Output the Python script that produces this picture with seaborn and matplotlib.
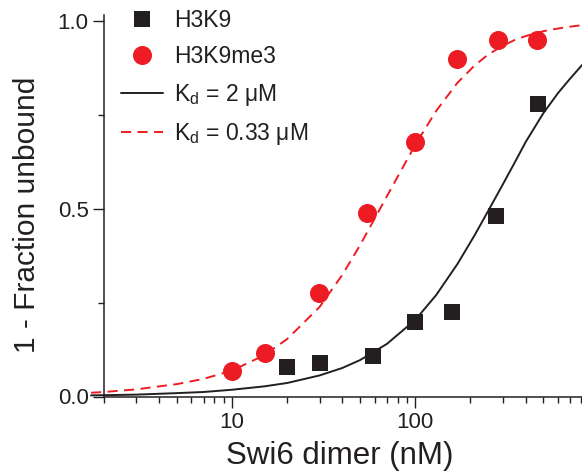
import pandas as pd
import matplotlib
matplotlib.use("Agg")
import matplotlib.pyplot as plt
from matplotlib.lines import Line2D
from matplotlib.ticker import LogLocator, NullFormatter, FixedLocator, FormatStrFormatter
import seaborn as sns

h3k9_conc = [20, 30, 59, 100, 158, 275, 466]
h3k9_frac = [0.078, 0.088, 0.109, 0.198, 0.226, 0.479, 0.778]
h3k9me3_conc = [10, 15.2, 29.7, 54.5, 100, 169, 281, 461]
h3k9me3_frac = [0.068, 0.117, 0.276, 0.488, 0.676, 0.899, 0.949, 0.948]

# fitted curves, sampled off the figure
fit_conc = [1.7, 2, 3, 5, 7, 10, 15, 20, 30, 40, 50, 70, 100, 130, 170,
            210, 250, 300, 350, 400, 500, 600, 700, 813]
fit_kd2 = [0.003, 0.0035, 0.005, 0.009, 0.012, 0.018, 0.027, 0.036, 0.056,
           0.076, 0.097, 0.140, 0.204, 0.270, 0.353, 0.428, 0.494, 0.564,
           0.624, 0.677, 0.754, 0.807, 0.846, 0.882]
fit_kd033 = [0.010, 0.012, 0.019, 0.033, 0.047, 0.069, 0.110, 0.153, 0.238,
             0.324, 0.403, 0.533, 0.670, 0.760, 0.835, 0.880, 0.910, 0.933,
             0.949, 0.959, 0.972, 0.979, 0.984, 0.988]

RED = "#ED1C24"
BLACK = "#231F20"

sns.set_style("ticks")
plt.rcParams["font.family"] = ["Liberation Sans", "DejaVu Sans"]
plt.rcParams["mathtext.fontset"] = "custom"
plt.rcParams["mathtext.rm"] = "Liberation Sans"
plt.rcParams["mathtext.it"] = "Liberation Sans:italic"

fig = plt.figure(figsize=(5.82, 4.72), dpi=100)
ax = fig.add_axes([104 / 582, 75.5 / 472, 478 / 582, 381.5 / 472])

fits = pd.DataFrame({"conc": fit_conc, "kd2": fit_kd2, "kd033": fit_kd033})
sns.lineplot(data=fits, x="conc", y="kd2", ax=ax, color=BLACK, lw=1.4,
             sort=False, estimator=None, clip_on=False)
sns.lineplot(data=fits, x="conc", y="kd033", ax=ax, color=RED, lw=1.4,
             sort=False, estimator=None, clip_on=False)
ax.lines[-1].set_dashes((5.2, 3.3))

sns.scatterplot(x=h3k9_conc, y=h3k9_frac, ax=ax, marker="s", s=12.2 ** 2,
                color=BLACK, linewidth=0, zorder=3)
sns.scatterplot(x=h3k9me3_conc, y=h3k9me3_frac, ax=ax, marker="o", s=13.7 ** 2,
                color=RED, linewidth=0, zorder=3)

ax.set_xscale("log")
ax.set_xlim(2, 812)
ax.set_ylim(0, 1.015)
ax.xaxis.set_major_locator(FixedLocator([10, 100]))
ax.xaxis.set_major_formatter(FormatStrFormatter("%d"))
ax.xaxis.set_minor_locator(LogLocator(base=10, subs=range(2, 10)))
ax.xaxis.set_minor_formatter(NullFormatter())
ax.yaxis.set_major_locator(FixedLocator([0, 0.5, 1.0]))
ax.yaxis.set_major_formatter(FormatStrFormatter("%.1f"))
ax.yaxis.set_minor_locator(FixedLocator([0.25, 0.75]))

ax.tick_params(which="major", length=8, width=1.0, labelsize=16, pad=3,
               color=BLACK, labelcolor=BLACK)
ax.tick_params(which="minor", length=4.5, width=1.0, color=BLACK)
for side in ["top", "right"]:
    ax.spines[side].set_visible(False)
for side in ["left", "bottom"]:
    ax.spines[side].set_linewidth(1.1)
    ax.spines[side].set_color(BLACK)

ax.set_xlabel("Swi6 dimer (nM)", fontsize=22.5, color=BLACK)
ax.set_ylabel("1 - Fraction unbound", fontsize=21.5, color=BLACK)
ax.xaxis.set_label_coords((340 - 104) / 478, -0.116)
ax.yaxis.set_label_coords(-0.132, 0.476)

handles = [
    Line2D([], [], marker="s", ls="none", color=BLACK, ms=12.2, mew=0),
    Line2D([], [], marker="o", ls="none", color=RED, ms=13.7, mew=0),
    Line2D([], [], color=BLACK, lw=1.4),
    Line2D([], [], color=RED, lw=1.4, dashes=(5.2, 3.3)),
]
labels = ["H3K9", "H3K9me3", r"K$_\mathregular{d}$ = 2 μM",
          r"K$_\mathregular{d}$ = 0.33 μM"]
ax.legend(handles, labels, loc="upper left", frameon=False, fontsize=16.5,
          bbox_to_anchor=(121 / 582, 1 - 9 / 472), bbox_transform=fig.transFigure,
          borderpad=0, borderaxespad=0, handlelength=1.85, handletextpad=0.45,
          labelspacing=0.58, labelcolor=BLACK)

fig.savefig("out.png", dpi=100)
